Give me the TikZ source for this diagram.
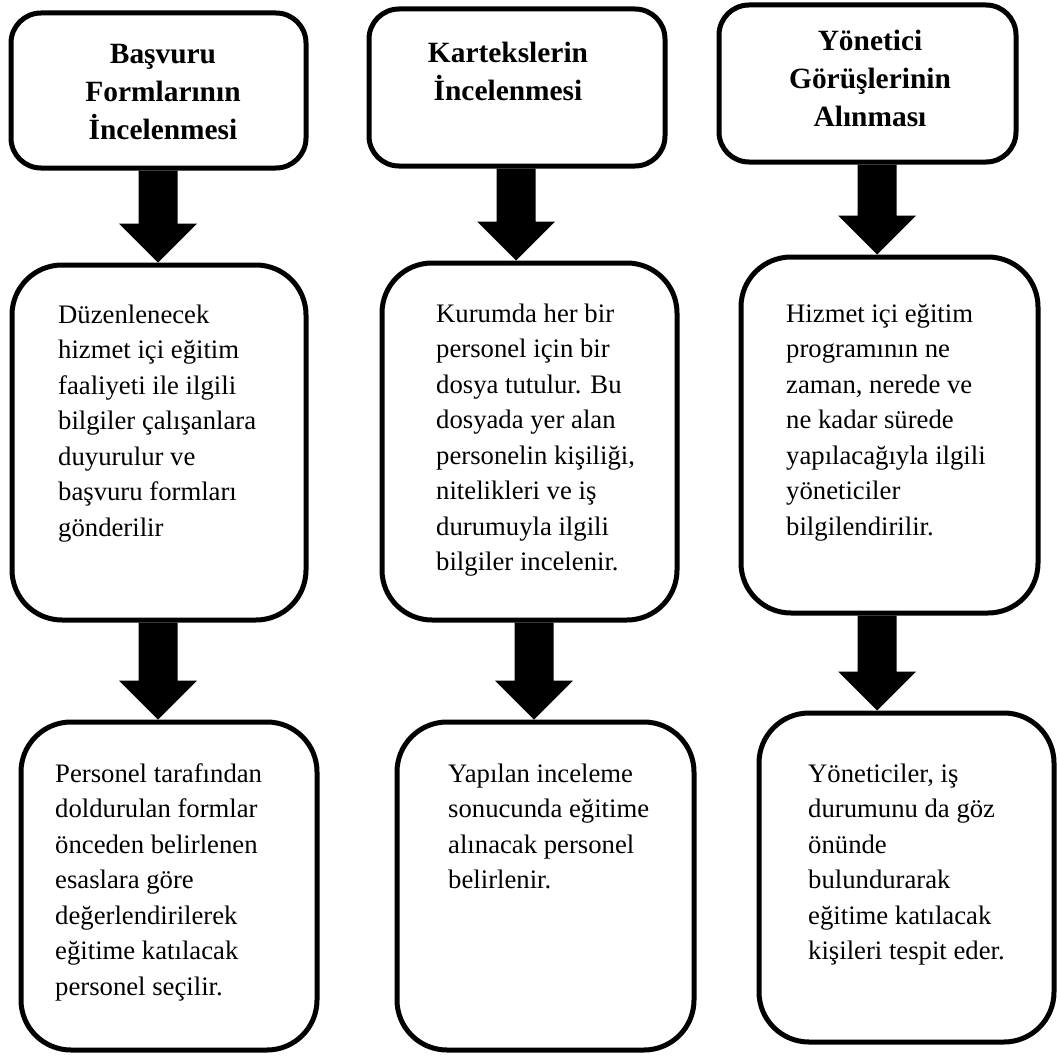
\documentclass[tikz,border=0pt]{standalone}
\usepackage{fontspec}
\setmainfont{Liberation Serif}
\usetikzlibrary{calc}
\tikzset{
  box/.style={draw=black, line width=5pt, rounded corners=#1, inner sep=0pt},
  body/.style={font=\fontsize{26.7}{35.5}\selectfont, align=left, inner sep=0pt, anchor=north west},
  title/.style={font=\bfseries\fontsize{29.4}{38}\selectfont, align=center, inner sep=0pt, anchor=north},
  blockfill/.style={fill=black}
}
% #1 = x of arrow axis, #2 = upper node, #3 = lower node
\newcommand\blockarr[3]{%
  \fill[blockfill] let \p1=(#2.south), \p2=(#3.north) in
    (#1pt-19.5pt,\y1) -- (#1pt+19.5pt,\y1) -- (#1pt+19.5pt,\y2+39pt) --
    (#1pt+39pt,\y2+39pt) -- (#1pt,\y2) -- (#1pt-39pt,\y2+39pt) --
    (#1pt-19.5pt,\y2+39pt) -- cycle;}
\begin{document}
\begin{tikzpicture}[x=1pt,y=-1pt]
\useasboundingbox (0,0) rectangle (1057,1057);
% top boxes
\node[box=30pt, minimum width=295pt, minimum height=155pt] (t1) at (158.5,90.5) {};
\node[box=30pt, minimum width=296pt, minimum height=157pt] (t2) at (517,87.5) {};
\node[box=30pt, minimum width=297pt, minimum height=157pt] (t3) at (867.5,83.5) {};
% middle boxes
\node[box=50pt, minimum width=294pt, minimum height=355pt] (m1) at (159,442.5) {};
\node[box=50pt, minimum width=295pt, minimum height=357pt] (m2) at (529.5,441.5) {};
\node[box=50pt, minimum width=297pt, minimum height=356pt] (m3) at (889.5,435) {};
% bottom boxes
\node[box=50pt, minimum width=296pt, minimum height=328pt] (b1) at (169,886) {};
\node[box=50pt, minimum width=297pt, minimum height=328pt] (b2) at (545.5,886) {};
\node[box=50pt, minimum width=295pt, minimum height=329pt] (b3) at (906.5,877.5) {};
% titles
\node[title] (t1t) at (163,36.4) {\strut Başvuru\\Formlarının\\İncelenmesi};
\node[title] (t2t) at (508,35.4) {\strut Kartekslerin\\İncelenmesi};
\node[title] (t3t) at (870,23.4) {\strut Yönetici\\Görüşlerinin\\Alınması};
% body texts
\node[body] (m1t) at (58,298.15) {\strut Düzenlenecek\\hizmet içi eğitim\\faaliyeti ile ilgili\\bilgiler çalışanlara\\duyurulur ve\\başvuru formları\\gönderilir};
\node[body] (m2t) at (436,297.15) {\strut Kurumda her bir\\personel için bir\\dosya tutulur. Bu\\dosyada yer alan\\personelin kişiliği,\\nitelikleri ve iş\\durumuyla ilgili\\bilgiler incelenir.};
\node[body] (m3t) at (786,297.15) {\strut Hizmet içi eğitim\\programının ne\\zaman, nerede ve\\ne kadar sürede\\yapılacağıyla ilgili\\yöneticiler\\bilgilendirilir.};
\node[body] (b1t) at (55,757.15) {\strut Personel tarafından\\doldurulan formlar\\önceden belirlenen\\esaslara göre\\değerlendirilerek\\eğitime katılacak\\personel seçilir.};
\node[body] (b2t) at (448,757.15) {\strut Yapılan inceleme\\sonucunda eğitime\\alınacak personel\\belirlenir.};
\node[body] (b3t) at (808,757.15) {\strut Yöneticiler, iş\\durumunu da göz\\önünde\\bulundurarak\\eğitime katılacak\\kişileri tespit eder.};
% block arrows
\blockarr{158}{t1}{m1}
\blockarr{516}{t2}{m2}
\blockarr{877}{t3}{m3}
\blockarr{158}{m1}{b1}
\blockarr{534}{m2}{b2}
\blockarr{877}{m3}{b3}
\end{tikzpicture}
\end{document}
